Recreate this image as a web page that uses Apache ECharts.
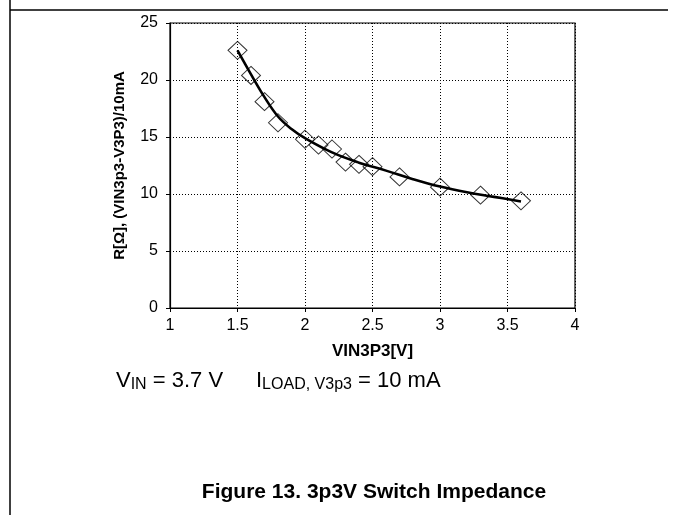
<!DOCTYPE html>
<html>
<head>
<meta charset="utf-8">
<script src="https://cdn.jsdelivr.net/npm/echarts@6/dist/echarts.min.js"></script>
<style>
  html, body { margin: 0; padding: 0; background: #fff; }
  #main { width: 673px; height: 515px; }
</style>
</head>
<body>
<div id="main"></div>
<script>
// measured points (diamonds)
var vinPts = [1.5, 1.6, 1.7, 1.8, 2.0, 2.1, 2.2, 2.3, 2.4, 2.5, 2.7, 3.0, 3.3, 3.6];
var resPts = [22.6, 20.4, 18.1, 16.25, 14.8, 14.3, 13.95, 12.8, 12.6, 12.4, 11.5, 10.6, 9.9, 9.4];
// trend line
var vinTrend = [1.5, 1.6, 1.7, 1.8, 1.9, 2.0, 2.2, 2.4, 2.6, 2.8, 3.0, 3.2, 3.4, 3.6];
var resTrend = [22.6, 20.5, 18.5, 16.8, 15.7, 14.9, 13.65, 12.75, 12.05, 11.3, 10.65, 10.15, 9.75, 9.35];
var xTicks = [1, 4, 0.5];   // min, max, step
var yTicks = [0, 25, 5];

var FONT = '"Liberation Sans", Arial, sans-serif';

function pairs(xs, ys) {
    var out = [];
    for (var i = 0; i < xs.length; i++) {
        out.push([xs[i], ys[i]]);
    }
    return out;
}

var chart = echarts.init(document.getElementById('main'), null, { renderer: 'canvas' });

var subRich = {
    m: { fontFamily: FONT, fontSize: 22, lineHeight: 24, fill: '#000' },
    s: { fontFamily: FONT, fontSize: 16, lineHeight: 16, fill: '#000', verticalAlign: 'bottom' }
};

chart.setOption({
    animation: false,
    backgroundColor: '#fff',
    grid: {
        left: 170, right: 98, top: 23, bottom: 207,
        show: true,
        borderColor: '#000',
        borderWidth: 1.2
    },
    xAxis: {
        type: 'value',
        min: xTicks[0], max: xTicks[1], interval: xTicks[2],
        name: 'VIN3P3[V]',
        nameLocation: 'middle',
        nameGap: 35,
        nameTextStyle: { color: '#000', fontFamily: FONT, fontWeight: 'bold', fontSize: 17 },
        axisLine: { lineStyle: { color: '#000', width: 1.2 } },
        axisTick: { show: true, length: 4, lineStyle: { color: '#000' } },
        axisLabel: { color: '#000', fontFamily: FONT, fontSize: 16, margin: 10 },
        splitLine: { show: true, lineStyle: { color: '#000', type: [1, 2], width: 1 } }
    },
    yAxis: {
        type: 'value',
        min: yTicks[0], max: yTicks[1], interval: yTicks[2],
        name: 'R[Ω], (VIN3p3-V3P3)/10mA',
        nameLocation: 'middle',
        nameGap: 43,
        nameTextStyle: { color: '#000', fontFamily: FONT, fontWeight: 'bold', fontSize: 15 },
        axisLine: { show: true, lineStyle: { color: '#000', width: 1.2 } },
        axisTick: { show: true, length: 4, lineStyle: { color: '#000' } },
        axisLabel: { color: '#000', fontFamily: FONT, fontSize: 16, margin: 12 },
        splitLine: { show: true, lineStyle: { color: '#000', type: [1, 2], width: 1 } }
    },
    series: [
        {
            name: 'trend',
            type: 'line',
            smooth: 0.4,
            symbol: 'none',
            data: pairs(vinTrend, resTrend),
            lineStyle: { color: '#000', width: 2.6 },
            z: 3
        },
        {
            name: 'measured',
            type: 'scatter',
            symbol: 'diamond',
            symbolSize: [19, 18],
            data: pairs(vinPts, resPts),
            itemStyle: { color: 'rgba(0,0,0,0)', borderColor: '#000', borderWidth: 1 },
            z: 4
        }
    ],
    graphic: [
        // page frame lines
        { type: 'line', shape: { x1: 10, y1: 0, x2: 10, y2: 515 }, style: { stroke: '#000', lineWidth: 1.5 } },
        { type: 'line', shape: { x1: 10, y1: 10, x2: 668, y2: 10 }, style: { stroke: '#000', lineWidth: 1.5 } },
        {
            type: 'text', left: 116, top: 370,
            style: { text: '{m|V}{s|IN}{m| = 3.7 V}', rich: subRich }
        },
        {
            type: 'text', left: 256, top: 370,
            style: { text: '{m|I}{s|LOAD, V3p3}{m| = 10 mA}', rich: subRich }
        },
        {
            type: 'text', x: 374, y: 492,
            style: {
                text: 'Figure 13. 3p3V Switch Impedance',
                fontFamily: FONT, fontWeight: 'bold', fontSize: 21, fill: '#000',
                textAlign: 'center', textVerticalAlign: 'middle'
            }
        }
    ]
});
</script>
</body>
</html>
